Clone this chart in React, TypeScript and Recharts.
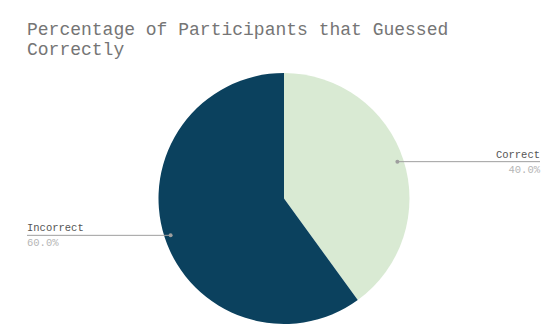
import { PieChart, Pie, Cell } from 'recharts'

const categories = ['Correct', 'Incorrect']
const values = [40, 60]
const colors = ['#d9ead3', '#0b415e']

const data = categories.map((name, i) => ({ name, value: values[i] }))
const total = values.reduce((a, b) => a + b, 0)

const RAD = Math.PI / 180
const W = 560
const H = 329

function renderLabel(props: any) {
  const { cx, cy, midAngle, outerRadius, index, value } = props
  const r = outerRadius * 0.95
  const x = cx + r * Math.cos(-midAngle * RAD)
  const y = cy + r * Math.sin(-midAngle * RAD)
  const right = x > cx
  const endX = right ? W - 20 : 27
  const pct = ((value / total) * 100).toFixed(1) + '%'
  return (
    <g key={`lbl-${index}`}>
      <line x1={x} y1={y} x2={endX} y2={y} stroke="#9e9e9e" strokeWidth={1} />
      <circle cx={x} cy={y} r={2} fill="#9e9e9e" />
      <text x={endX} y={y - 4} textAnchor={right ? 'end' : 'start'} fontSize={10.5} fill="#555" fontFamily="'Liberation Mono', monospace">
        {categories[index]}
      </text>
      <text x={endX} y={y + 11} textAnchor={right ? 'end' : 'start'} fontSize={10.5} fill="#b5b5b5" fontFamily="'Liberation Mono', monospace">
        {pct}
      </text>
    </g>
  )
}

export default function App() {
  return (
    <div style={{ position: 'absolute', left: 0, top: 0, width: W, height: H, background: '#fff' }}>
      <div style={{ position: 'absolute', left: 27, top: 19.5, fontFamily: "'Liberation Mono', monospace", fontSize: 18, lineHeight: '20px', color: '#757575', whiteSpace: 'pre' }}>
        {'Percentage of Participants that Guessed\nCorrectly'}
      </div>
      <PieChart width={W} height={H} margin={{ top: 0, right: 0, bottom: 0, left: 0 }}>
        <Pie
          data={data}
          dataKey="value"
          nameKey="name"
          cx={284}
          cy={198.5}
          outerRadius={125.5}
          startAngle={90}
          endAngle={-270}
          stroke="none"
          label={renderLabel}
          labelLine={false}
          isAnimationActive={false}
        >
          {data.map((d, i) => (
            <Cell key={d.name} fill={colors[i]} />
          ))}
        </Pie>
      </PieChart>
    </div>
  )
}
